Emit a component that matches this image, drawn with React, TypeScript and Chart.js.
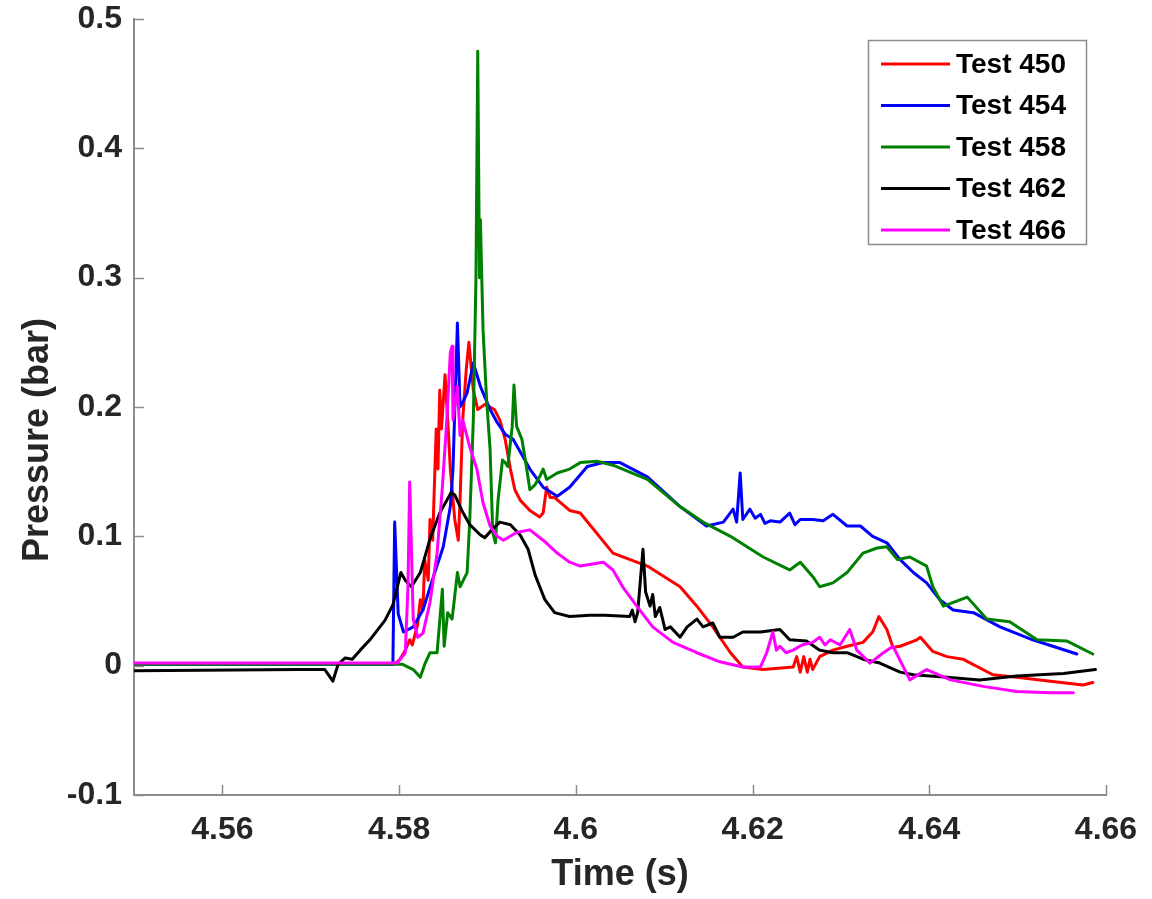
import React, { useEffect, useRef } from "react";
import { Chart, registerables } from "chart.js";

Chart.register(...registerables);

const seriesLabels = ["Test 450", "Test 454", "Test 458", "Test 462", "Test 466"];
const seriesColors = ["#ff0000", "#0000ff", "#008000", "#000000", "#ff00ff"];
const xTickValues = [4.56, 4.58, 4.6, 4.62, 4.64, 4.66];
const yTickValues = [-0.1, 0, 0.1, 0.2, 0.3, 0.4, 0.5];
const xTitle = "Time (s)";
const yTitle = "Pressure (bar)";

// [time (s), pressure (bar)]
const test450: number[][] = [
  [4.55, 0.001], [4.5795, 0.001], [4.5801, 0.005], [4.5807, 0.012], [4.5812, 0.02], [4.5815, 0.016],
  [4.5821, 0.032], [4.5824, 0.051], [4.5827, 0.043], [4.5829, 0.082], [4.5833, 0.066], [4.5835, 0.113],
  [4.5838, 0.097], [4.5842, 0.183], [4.5844, 0.152], [4.5846, 0.213], [4.5848, 0.183], [4.5852, 0.225],
  [4.5855, 0.19], [4.5858, 0.152], [4.5863, 0.113], [4.5867, 0.097], [4.5869, 0.128], [4.5872, 0.19],
  [4.5876, 0.229], [4.5879, 0.25], [4.5884, 0.213], [4.5889, 0.198], [4.5897, 0.202], [4.5908, 0.198],
  [4.5914, 0.19], [4.592, 0.175], [4.5926, 0.152], [4.5931, 0.136], [4.5937, 0.128], [4.5948, 0.12],
  [4.5959, 0.115], [4.5963, 0.118], [4.5967, 0.138], [4.5971, 0.13], [4.5976, 0.13], [4.5993, 0.12],
  [4.6005, 0.118], [4.6042, 0.087], [4.6081, 0.077], [4.6118, 0.061], [4.6137, 0.046], [4.6155, 0.03],
  [4.6175, 0.01], [4.6189, -0.001], [4.6212, -0.003], [4.6246, -0.001], [4.625, 0.007], [4.6254, -0.005],
  [4.6258, 0.007], [4.6262, -0.005], [4.6265, 0.005], [4.6268, -0.003], [4.6276, 0.007], [4.6291, 0.012],
  [4.6307, 0.015], [4.6325, 0.018], [4.6336, 0.026], [4.6343, 0.038], [4.6352, 0.028], [4.6359, 0.014],
  [4.6367, 0.015], [4.6386, 0.02], [4.639, 0.022], [4.6404, 0.011], [4.642, 0.007], [4.6438, 0.005],
  [4.6472, -0.007], [4.6499, -0.009], [4.6537, -0.012], [4.6574, -0.015], [4.6585, -0.013],
];

const test454: number[][] = [
  [4.55, 0.001], [4.5793, 0.001], [4.5795, 0.111], [4.5799, 0.04], [4.5805, 0.026], [4.5816, 0.03],
  [4.5827, 0.043], [4.5838, 0.067], [4.585, 0.092], [4.5858, 0.123], [4.5861, 0.152], [4.5866, 0.265],
  [4.5869, 0.2], [4.5873, 0.205], [4.5877, 0.211], [4.5884, 0.234], [4.5892, 0.216], [4.5903, 0.198],
  [4.5911, 0.188], [4.592, 0.179], [4.5929, 0.175], [4.5939, 0.163], [4.5948, 0.152], [4.5963, 0.138],
  [4.5979, 0.131], [4.5993, 0.138], [4.6013, 0.154], [4.6031, 0.157], [4.605, 0.157], [4.6081, 0.146],
  [4.6118, 0.123], [4.6148, 0.108], [4.6167, 0.111], [4.6178, 0.121], [4.6182, 0.111], [4.6186, 0.149],
  [4.6189, 0.113], [4.6197, 0.121], [4.6203, 0.114], [4.6209, 0.117], [4.6214, 0.11], [4.622, 0.112],
  [4.6231, 0.111], [4.6242, 0.118], [4.6248, 0.109], [4.6254, 0.113], [4.6268, 0.113], [4.628, 0.112],
  [4.6291, 0.117], [4.6307, 0.108], [4.6322, 0.108], [4.6336, 0.1], [4.6352, 0.095], [4.6367, 0.082],
  [4.6382, 0.072], [4.6397, 0.064], [4.6412, 0.051], [4.6427, 0.043], [4.645, 0.041], [4.648, 0.03],
  [4.6517, 0.02], [4.6567, 0.009],
];

const test458: number[][] = [
  [4.55, 0.001], [4.5804, 0.001], [4.5816, -0.003], [4.5824, -0.009], [4.5829, 0.001], [4.5835, 0.01],
  [4.5843, 0.01], [4.5849, 0.059], [4.5851, 0.015], [4.5855, 0.041], [4.586, 0.036], [4.5866, 0.072],
  [4.5869, 0.061], [4.5877, 0.072], [4.588, 0.113], [4.5884, 0.19], [4.5887, 0.3], [4.5889, 0.475],
  [4.5891, 0.3], [4.5892, 0.345], [4.5895, 0.26], [4.5899, 0.206], [4.5903, 0.167], [4.5906, 0.103],
  [4.5909, 0.095], [4.5912, 0.128], [4.5917, 0.159], [4.592, 0.157], [4.5923, 0.154], [4.5928, 0.185],
  [4.593, 0.217], [4.5933, 0.185], [4.5939, 0.175], [4.5944, 0.154], [4.5948, 0.136], [4.5954, 0.14],
  [4.5959, 0.146], [4.5963, 0.152], [4.5967, 0.144], [4.5979, 0.149], [4.5993, 0.152], [4.6005, 0.157],
  [4.6024, 0.158], [4.6042, 0.155], [4.6081, 0.144], [4.6118, 0.123], [4.6144, 0.111], [4.6175, 0.1],
  [4.6212, 0.084], [4.6242, 0.074], [4.6254, 0.08], [4.6268, 0.069], [4.6276, 0.061], [4.6291, 0.064],
  [4.6307, 0.072], [4.6325, 0.087], [4.6341, 0.091], [4.6352, 0.092], [4.6364, 0.082], [4.6378, 0.084],
  [4.6397, 0.077], [4.6404, 0.061], [4.6416, 0.046], [4.6443, 0.053], [4.6465, 0.036], [4.6491, 0.034],
  [4.6522, 0.02], [4.6556, 0.019], [4.6585, 0.009],
];

const test462: number[][] = [
  [4.55, -0.004], [4.5688, -0.003], [4.5716, -0.003], [4.5725, -0.012], [4.5731, 0.001], [4.5739, 0.006],
  [4.5747, 0.005], [4.5756, 0.012], [4.5767, 0.02], [4.5784, 0.035], [4.5793, 0.047], [4.5802, 0.072],
  [4.5807, 0.066], [4.5814, 0.061], [4.5824, 0.072], [4.5835, 0.098], [4.5846, 0.118], [4.5859, 0.134],
  [4.5863, 0.132], [4.5871, 0.12], [4.588, 0.109], [4.5892, 0.101], [4.5897, 0.099], [4.5905, 0.105],
  [4.5914, 0.111], [4.5926, 0.109], [4.5937, 0.101], [4.5946, 0.09], [4.5954, 0.07], [4.5965, 0.051],
  [4.5976, 0.041], [4.5993, 0.038], [4.6016, 0.039], [4.6033, 0.039], [4.6061, 0.038], [4.6064, 0.043],
  [4.6067, 0.034], [4.607, 0.041], [4.6076, 0.09], [4.6079, 0.057], [4.6084, 0.046], [4.6087, 0.055],
  [4.609, 0.038], [4.6095, 0.045], [4.6101, 0.028], [4.6107, 0.03], [4.6118, 0.022], [4.6126, 0.03],
  [4.6137, 0.036], [4.6144, 0.03], [4.6155, 0.033], [4.6163, 0.022], [4.6178, 0.022], [4.6189, 0.026],
  [4.6209, 0.026], [4.6231, 0.028], [4.6242, 0.02], [4.6261, 0.019], [4.6276, 0.012], [4.6291, 0.01],
  [4.6307, 0.01], [4.6325, 0.005], [4.6344, 0.002], [4.6367, -0.005], [4.6382, -0.007], [4.642, -0.009],
  [4.6457, -0.011], [4.6499, -0.008], [4.6525, -0.007], [4.6552, -0.006], [4.6588, -0.003],
];

const test466: number[][] = [
  [4.55, 0.002], [4.5798, 0.002], [4.5807, 0.01], [4.581, 0.06], [4.5812, 0.142], [4.5816, 0.036],
  [4.5821, 0.022], [4.5827, 0.025], [4.5835, 0.049], [4.5843, 0.087], [4.5849, 0.138], [4.5854, 0.19],
  [4.5858, 0.242], [4.586, 0.247], [4.5861, 0.19], [4.5866, 0.216], [4.5869, 0.178], [4.5872, 0.19],
  [4.588, 0.169], [4.5888, 0.152], [4.5895, 0.126], [4.5903, 0.108], [4.5911, 0.1], [4.5918, 0.097],
  [4.5933, 0.103], [4.5948, 0.105], [4.5963, 0.097], [4.5979, 0.087], [4.5993, 0.08], [4.6005, 0.077],
  [4.6031, 0.08], [4.6042, 0.074], [4.6053, 0.061], [4.6069, 0.046], [4.6087, 0.03], [4.611, 0.018],
  [4.6137, 0.01], [4.6163, 0.003], [4.6189, -0.001], [4.6209, -0.001], [4.6216, 0.01], [4.6223, 0.026],
  [4.6227, 0.012], [4.6231, 0.015], [4.6238, 0.01], [4.6246, 0.012], [4.6256, 0.016], [4.6268, 0.018],
  [4.6276, 0.022], [4.6282, 0.016], [4.6288, 0.02], [4.6299, 0.016], [4.631, 0.028], [4.6318, 0.012],
  [4.6333, 0.002], [4.6348, 0.01], [4.6359, 0.015], [4.6378, -0.011], [4.6397, -0.003], [4.6424, -0.011],
  [4.6461, -0.016], [4.6499, -0.02], [4.6537, -0.021], [4.6563, -0.021],
];

const seriesData = [test450, test454, test458, test462, test466];

const FONT = "'Liberation Sans', Arial, Helvetica, sans-serif";

const fmt = (v: number) => {
  const s = Number(v).toFixed(2).replace(/0+$/, "").replace(/\.$/, "");
  return s === "-0" ? "0" : s;
};

const matlabPlugin = {
  id: "matlabDecor",
  afterDraw(chart: any) {
    const { ctx, chartArea, scales } = chart;
    ctx.save();
    // inward tick marks
    ctx.strokeStyle = "#8c8c8c";
    ctx.lineWidth = 1.5;
    scales.x.ticks.forEach((t: any) => {
      const px = Math.round(scales.x.getPixelForValue(t.value)) + 0.5;
      ctx.beginPath();
      ctx.moveTo(px, chartArea.bottom);
      ctx.lineTo(px, chartArea.bottom - 10);
      ctx.stroke();
    });
    scales.y.ticks.forEach((t: any) => {
      const py = Math.round(scales.y.getPixelForValue(t.value)) + 0.5;
      ctx.beginPath();
      ctx.moveTo(chartArea.left, py);
      ctx.lineTo(chartArea.left + 10, py);
      ctx.stroke();
    });
    // y-axis title
    ctx.save();
    ctx.translate(38, (chartArea.top + chartArea.bottom) / 2 + 33);
    ctx.rotate(-Math.PI / 2);
    ctx.font = `bold 36px ${FONT}`;
    ctx.fillStyle = "#262626";
    ctx.textAlign = "center";
    ctx.textBaseline = "middle";
    ctx.fillText(yTitle, 0, 0);
    ctx.restore();
    // legend box
    const bw = 218;
    const bh = 204;
    const bx = chartArea.right - 20 - bw;
    const by = chartArea.top + 21;
    ctx.fillStyle = "#ffffff";
    ctx.fillRect(bx, by, bw, bh);
    ctx.strokeStyle = "#8c8c8c";
    ctx.lineWidth = 1.5;
    ctx.strokeRect(bx + 0.5, by + 0.5, bw, bh);
    ctx.font = `bold 28px ${FONT}`;
    ctx.textBaseline = "middle";
    ctx.textAlign = "left";
    chart.data.datasets.forEach((ds: any, i: number) => {
      const cy = by + 24 + i * 41.5;
      ctx.strokeStyle = ds.borderColor;
      ctx.lineWidth = 3;
      ctx.beginPath();
      ctx.moveTo(bx + 13, cy);
      ctx.lineTo(bx + 82, cy);
      ctx.stroke();
      ctx.fillStyle = "#000000";
      ctx.fillText(ds.label, bx + 88, cy + 1);
    });
    ctx.restore();
  },
};

export default function App() {
  const canvasRef = useRef<HTMLCanvasElement | null>(null);

  useEffect(() => {
    if (!canvasRef.current) return;
    const datasets = seriesLabels.map((label, i) => ({
      label,
      data: seriesData[i].map(([t, p]) => ({ x: t, y: p })),
      borderColor: seriesColors[i],
      backgroundColor: seriesColors[i],
      borderWidth: 3,
      pointRadius: 0,
      tension: 0,
      fill: false,
      borderJoinStyle: "round" as const,
      borderCapStyle: "round" as const,
      order: seriesLabels.length - i,
    }));

    const tickFont = { family: FONT, size: 32, weight: "bold" as const };
    const titleFont = { family: FONT, size: 36, weight: "bold" as const };

    const chart = new Chart(canvasRef.current, {
      type: "line",
      data: { datasets },
      options: {
        animation: false,
        responsive: false,
        maintainAspectRatio: false,
        events: [],
        layout: { padding: { left: 0, right: 46, top: 19, bottom: 0 } },
        plugins: {
          legend: { display: false },
          tooltip: { enabled: false },
        },
        scales: {
          x: {
            type: "linear",
            min: 4.55,
            max: 4.66,
            afterBuildTicks: (scale: any) => {
              scale.ticks = xTickValues.map((v) => ({ value: v }));
            },
            afterFit: (scale: any) => {
              scale.height = 104;
              scale.paddingLeft = 0;
              scale.paddingRight = 0;
            },
            grid: { display: false, drawTicks: false },
            border: { display: true, color: "#8c8c8c", width: 2 },
            ticks: {
              autoSkip: false,
              maxRotation: 0,
              padding: 16,
              color: "#262626",
              font: tickFont,
              callback: (v: any) => fmt(Number(v)),
            },
            title: {
              display: true,
              text: xTitle,
              color: "#262626",
              font: titleFont,
              padding: { top: 0, bottom: 2 },
            },
          },
          y: {
            type: "linear",
            min: -0.1,
            max: 0.5,
            afterBuildTicks: (scale: any) => {
              scale.ticks = yTickValues.map((v) => ({ value: v }));
            },
            afterFit: (scale: any) => {
              scale.width = 134;
              scale.paddingTop = 0;
              scale.paddingBottom = 0;
            },
            grid: { display: false, drawTicks: false },
            border: { display: true, color: "#8c8c8c", width: 2 },
            ticks: {
              autoSkip: false,
              padding: 12,
              color: "#262626",
              font: tickFont,
              callback: (v: any) => fmt(Number(v)),
            },
            title: { display: false },
          },
        },
      },
      plugins: [matlabPlugin],
    } as any);

    return () => {
      chart.destroy();
    };
  }, []);

  return (
    <div style={{ position: "absolute", left: 0, top: 0, width: 1152, height: 899, background: "#ffffff" }}>
      <canvas ref={canvasRef} width={1152} height={899} style={{ display: "block" }} />
    </div>
  );
}
